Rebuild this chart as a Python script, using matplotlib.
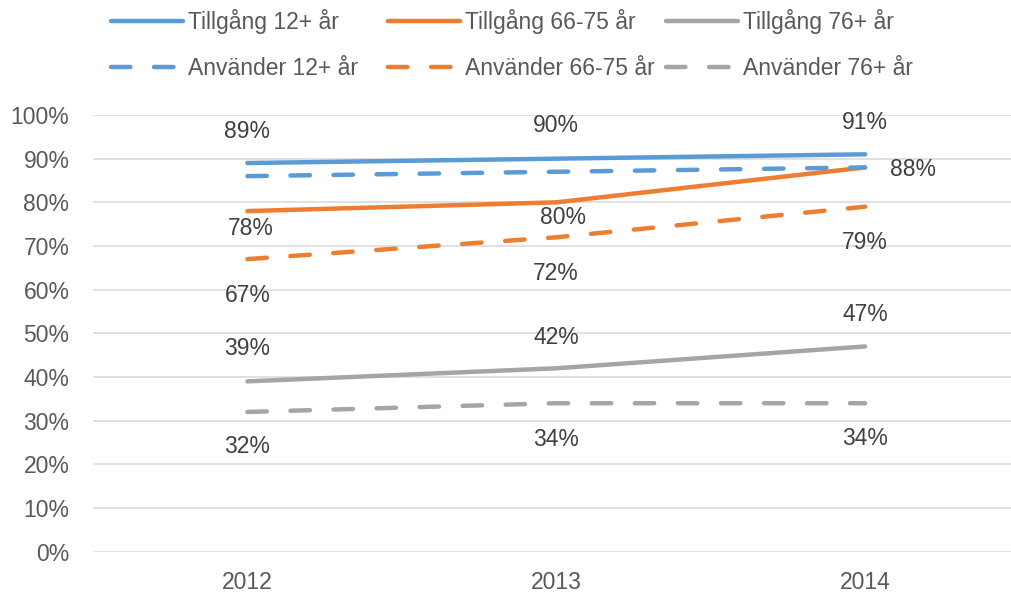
import matplotlib
matplotlib.use("Agg")
import matplotlib.pyplot as plt
from matplotlib.ticker import FuncFormatter

# ---- data ----
years = ["2012", "2013", "2014"]
series_names = ["Tillgång 12+ år", "Tillgång 66-75 år", "Tillgång 76+ år",
                "Använder 12+ år", "Använder 66-75 år", "Använder 76+ år"]
tillgang_12 = [89, 90, 91]
tillgang_66_75 = [78, 80, 88]
tillgang_76 = [39, 42, 47]
anvander_12 = [86, 87, 88]
anvander_66_75 = [67, 72, 79]
anvander_76 = [32, 34, 34]
yticks = list(range(0, 101, 10))

# ---- style ----
plt.rcParams['font.family'] = ['Liberation Sans', 'DejaVu Sans']
plt.rcParams['lines.scale_dashes'] = False
BLUE, ORANGE, GRAY = "#5B9BD5", "#ED7D31", "#A5A5A5"
TICK_C, LABEL_C = "#595959", "#404040"
FS = 16.5
LW = 3.2
DASH = (0, (14, 17))

W, H = 1011, 596
fig = plt.figure(figsize=(W / 100, H / 100), dpi=100)
ax_left, ax_right = 93 / W, 1019.5 / W
ax_bottom, ax_top = (H - 551.7) / H, (H - 115) / H
ax = fig.add_axes([ax_left, ax_bottom, ax_right - ax_left, ax_top - ax_bottom])

x = list(range(len(years)))
series = [
    (tillgang_12, BLUE, "-"),
    (tillgang_66_75, ORANGE, "-"),
    (tillgang_76, GRAY, "-"),
    (anvander_12, BLUE, DASH),
    (anvander_66_75, ORANGE, DASH),
    (anvander_76, GRAY, DASH),
]
handles = []
for (vals, col, ls), name in zip(series, series_names):
    ln, = ax.plot(x, vals, color=col, lw=LW, linestyle=ls,
                  solid_capstyle="round", dash_capstyle="round",
                  label=name, zorder=3, clip_on=False)
    handles.append(ln)

# data label offsets (pixels): per series, per point; None = no label
offsets = [
    [(0, 32), (0, 33), (0, 32)],
    [(3, -17), (7, -15), (48, -2)],
    [(0, 33), (0, 31), (0, 32)],
    None,
    [(0, -36), (0, -36), (0, -36)],
    [(0, -35), (0, -36), (0, -35)],
]
for (vals, col, ls), offs in zip(series, offsets):
    if offs is None:
        continue
    for xi, v, (dx, dy) in zip(x, vals, offs):
        ax.annotate(f"{v}%", (xi, v), xytext=(dx, dy), textcoords="offset pixels",
                    ha="center", va="center", fontsize=FS, color=LABEL_C, zorder=4)

ax.set_xlim(-0.5, 2.5)
ax.set_ylim(0, 100)
ax.set_yticks(yticks)
ax.yaxis.set_major_formatter(FuncFormatter(lambda v, p: f"{int(v)}%"))
ax.set_xticks(x)
ax.set_xticklabels(years)
ax.grid(axis="y", color="#D9D9D9", lw=1.1, zorder=0)
ax.grid(axis="x", visible=False)
for s in ax.spines.values():
    s.set_visible(False)
ax.tick_params(axis="y", length=0, pad=17, labelsize=FS, labelcolor=TICK_C)
ax.tick_params(axis="x", length=0, pad=14, labelsize=FS, labelcolor=TICK_C)

# legend: three columns each with Tillgång / Använder rows
col_x = [111, 388, 666]
for i, cx in enumerate(col_x):
    leg = fig.legend(handles=[handles[i], handles[i + 3]],
                     loc="upper left",
                     bbox_to_anchor=(cx / W, 1 - 9 / H),
                     bbox_transform=fig.transFigure,
                     frameon=False, fontsize=FS, ncol=1,
                     handlelength=3.15, handletextpad=0.22,
                     labelspacing=1.02, borderpad=0, borderaxespad=0)
    for t in leg.get_texts():
        t.set_color(TICK_C)

fig.savefig("out.png", dpi=100)
